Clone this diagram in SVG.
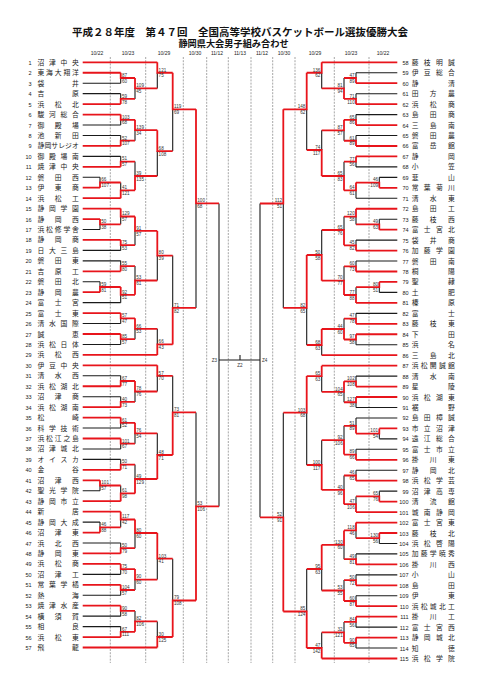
<svg xmlns="http://www.w3.org/2000/svg" width="481" height="680" viewBox="0 0 481 680">
<style>
.g{stroke:#6a6a6a;stroke-width:.6;stroke-dasharray:2 1.2;fill:none}
.k{stroke:#1a1a1a;stroke-width:1.1;fill:none}
.r{stroke:#e8141b;stroke-width:1.8;fill:none}
.n{font-family:"Noto Sans CJK JP","Noto Sans CJK SC",sans-serif;font-size:6.8px;fill:#222}
.no{font-family:"Liberation Sans",sans-serif;font-size:5.5px;fill:#222;text-anchor:end}
.s text{font-family:"Liberation Sans",sans-serif;font-size:4.6px;fill:#333}
.e text{text-anchor:end}
.d{font-family:"Liberation Sans",sans-serif;font-size:5px;fill:#222;text-anchor:middle}
.ti{font-family:"Liberation Sans","Noto Sans CJK JP",sans-serif;font-weight:bold;fill:#111;text-anchor:middle}
</style>
<rect width="481" height="680" fill="#fff"/>
<text class="ti" x="240" y="36" font-size="10.5">平成２８年度　第４７回　全国高等学校バスケットボール選抜優勝大会</text>
<text class="ti" x="233.5" y="47.4" font-size="9.2">静岡県大会男子組み合わせ</text>
<g id="dates">
<text class="d" x="97" y="54.5">10/22</text><text class="d" x="128" y="54.5">10/23</text><text class="d" x="164" y="54.5">10/29</text><text class="d" x="195" y="54.5">10/30</text><text class="d" x="217" y="54.5">11/12</text><text class="d" x="240" y="54.5">11/13</text><text class="d" x="262" y="54.5">11/12</text><text class="d" x="284" y="54.5">10/30</text><text class="d" x="315" y="54.5">10/29</text><text class="d" x="351" y="54.5">10/23</text><text class="d" x="383" y="54.5">10/22</text>
</g>
<g id="guides">
<path class="g" d="M110.3 57V663M145.7 57V663M183.3 57V663M206.7 57V663M228.3 57V663M251 57V663M272.7 57V663M295 57V663M334.3 57V663M369 57V663"/>
</g>
<g id="connectors">
<path class="k" d="M82.7 83.2H120.7M82.7 93.65H120.7M82.7 125H120.7M82.7 135.45H120.7M82.7 156.35H120.7M82.7 177.25H100M82.7 229.5H100M82.7 250.4H120.7M82.7 260.85H120.7M82.7 281.75H100M82.7 302.65H120.7M82.7 323.55H120.7M82.7 344.45H120.7M82.7 375.8H120.7M82.7 396.7H120.7M82.7 428.05H120.7M82.7 448.95H120.7M82.7 459.4H120.7M82.7 490.75H100M82.7 522.1H100M82.7 543H120.7M82.7 574.35H120.7M82.7 595.25H120.7M82.7 616.15H120.7M82.7 626.6H120.7"/>
<path class="k" d="M120.7 83.2V78M120.7 93.65V98.9M135 98.9V88.4M157.3 88.4V72.75M120.7 125V119.8M120.7 135.45V140.7M135 140.7V130.2M120.7 156.35V161.6M100 177.25V182.5M120.7 182.5V190.3M135 161.6V176M157.3 176V151.1M172.7 151.1V109.3M100 229.5V224.3M120.7 224.3V216.5M120.7 250.4V245.2M135 245.2V230.9M120.7 260.85V266.1M100 281.75V287M120.7 302.65V294.8M135 266.1V280.5M157.3 280.5V255.6M120.7 323.55V318.3M120.7 344.45V339.2M135 339.2V328.8M157.3 328.8V344.45M172.7 255.6V307.9M196 307.9V203.4M120.7 375.8V381M120.7 396.7V401.9M135 401.9V391.5M157.3 391.5V375.8M120.7 428.05V422.8M120.7 448.95V443.7M135 443.7V433.3M120.7 459.4V464.6M100 490.75V485.5M120.7 485.5V493.4M135 464.6V479M157.3 433.3V455M172.7 375.8V412.4M100 522.1V527.3M120.7 527.3V519.5M120.7 543V548.2M135 548.2V533M120.7 574.35V569.1M120.7 595.25V590M135 590V579.6M157.3 579.6V558.7M120.7 616.15V610.9M120.7 626.6V631.8M135 610.9V621.4M157.3 621.4V637M172.7 558.7V600.5M196 412.4V506.4"/>
<path class="k" d="M219 203.4V506.4M219 360H260M240 355V360M260 203.5V517.3"/>
<path class="k" d="M397.3 72.76H356M397.3 93.68H356M397.3 114.6H356M397.3 135.52H356M397.3 166.9H356M397.3 177.36H379.3M397.3 198.28H356M397.3 219.2H379.3M397.3 240.12H356M397.3 261.04H356M397.3 292.42H379.3M397.3 313.34H356M397.3 344.72H356M397.3 376.1H356M397.3 407.48H356M397.3 417.94H356M397.3 438.86H379.3M397.3 449.32H356M397.3 470.24H356M397.3 491.16H379.3M397.3 543.46H379.3M397.3 553.92H356M397.3 574.84H356M397.3 595.76H356M397.3 627.14H356M397.3 648.06H356"/>
<path class="k" d="M356 72.76V78M356 93.68V98.9M344 78V88.45M321.7 88.45V72.76M356 114.6V119.8M356 135.52V140.75M344 140.75V130.3M356 166.9V161.7M379.3 177.36V182.6M356 198.28V190.4M344 161.7V176M321.7 130.3V150M306.7 150V109.37M379.3 219.2V224.4M356 224.4V216.6M356 240.12V245.35M344 216.6V230M356 261.04V266.3M379.3 292.42V287.2M356 287.2V295M344 266.3V280.65M321.7 230V255M356 313.34V318.6M356 344.72V339.5M344 318.6V329M321.7 355.18V345M306.7 345V307.9M283.3 307.9V203.5M356 376.1V381.3M356 407.48V402.25M344 402.25V391.8M321.7 391.8V376.1M379.3 438.86V433.6M356 417.94V425.8M356 449.32V454.55M344 425.8V440.2M356 470.24V475.5M379.3 491.16V496.4M356 496.4V504.2M344 475.5V489.9M321.7 440.2V465M306.7 465V412.7M379.3 543.46V538.2M356 538.2V530.4M356 553.92V559.15M344 559.15V544.8M356 574.84V580.07M356 595.76V601M344 580.07V590.5M321.7 590.5V569M356 627.14V621.9M356 648.06V642.8M344 621.9V632.4M321.7 632.4V648M306.7 569V611.5M283.3 412.7V517.3"/>
<path class="r" d="M82.7 62.3H157.3M82.7 72.75H120.7M82.7 104.1H120.7M82.7 114.55H120.7M82.7 145.9H120.7M82.7 166.8H120.7M82.7 187.7H100M82.7 198.15H120.7M82.7 208.6H120.7M82.7 219.05H100M82.7 239.95H120.7M82.7 271.3H120.7M82.7 292.2H100M82.7 313.1H120.7M82.7 334H120.7M82.7 354.9H157.3M82.7 365.35H157.3M82.7 386.25H120.7M82.7 407.15H120.7M82.7 417.6H120.7M82.7 438.5H120.7M82.7 469.85H120.7M82.7 480.3H100M82.7 501.2H120.7M82.7 511.65H120.7M82.7 532.55H100M82.7 553.45H120.7M82.7 563.9H120.7M82.7 584.8H120.7M82.7 605.7H120.7M82.7 637.05H120.7M82.7 647.5H157.3"/>
<path class="r" d="M120.7 72.75V78H135M120.7 104.1V98.9H135M135 78V88.4H157.3M157.3 62.3V72.75H172.7M120.7 114.55V119.8H135M120.7 145.9V140.7H135M135 119.8V130.2H157.3M120.7 166.8V161.6H135M100 187.7V182.5H120.7M120.7 198.15V190.3H135M135 190.3V176H157.3M157.3 130.2V151.1H172.7M172.7 72.75V109.3H196M100 219.05V224.3H120.7M120.7 208.6V216.5H135M120.7 239.95V245.2H135M135 216.5V230.9H157.3M120.7 271.3V266.1H135M100 292.2V287H120.7M120.7 287V294.8H135M135 294.8V280.5H157.3M157.3 230.9V255.6H172.7M120.7 313.1V318.3H135M120.7 334V339.2H135M135 318.3V328.8H157.3M157.3 354.9V344.45H172.7M172.7 344.45V307.9H196M196 109.3V203.4H219M120.7 386.25V381H135M120.7 407.15V401.9H135M135 381V391.5H157.3M157.3 365.35V375.8H172.7M120.7 417.6V422.8H135M120.7 438.5V443.7H135M135 422.8V433.3H157.3M120.7 469.85V464.6H135M100 480.3V485.5H120.7M120.7 501.2V493.4H135M135 493.4V479H157.3M157.3 479V455H172.7M172.7 455V412.4H196M100 532.55V527.3H120.7M120.7 511.65V519.5H135M120.7 553.45V548.2H135M135 519.5V533H157.3M120.7 563.9V569.1H135M120.7 584.8V590H135M135 569.1V579.6H157.3M157.3 533V558.7H172.7M120.7 605.7V610.9H135M120.7 637.05V631.8H135M135 631.8V621.4H157.3M157.3 647.5V637H172.7M172.7 637V600.5H196M196 600.5V506.4H219"/>
<path class="r" d="M397.3 62.3H321.7M397.3 83.22H356M397.3 104.14H356M397.3 125.06H356M397.3 145.98H356M397.3 156.44H356M397.3 187.82H379.3M397.3 208.74H356M397.3 229.66H379.3M397.3 250.58H356M397.3 271.5H356M397.3 281.96H379.3M397.3 302.88H356M397.3 323.8H356M397.3 334.26H356M397.3 355.18H321.7M397.3 365.64H321.7M397.3 386.56H356M397.3 397.02H356M397.3 428.4H379.3M397.3 459.78H356M397.3 480.7H356M397.3 501.62H379.3M397.3 512.08H356M397.3 522.54H356M397.3 533H379.3M397.3 564.38H356M397.3 585.3H356M397.3 606.22H356M397.3 616.68H356M397.3 637.6H356M397.3 658.52H321.7"/>
<path class="r" d="M356 83.22V78H344M356 104.14V98.9H344M344 98.9V88.45H321.7M321.7 62.3V72.76H306.7M356 125.06V119.8H344M356 145.98V140.75H344M344 119.8V130.3H321.7M356 156.44V161.7H344M379.3 187.82V182.6H356M356 182.6V190.4H344M344 190.4V176H321.7M321.7 176V150H306.7M306.7 72.76V109.37H283.3M379.3 229.66V224.4H356M356 208.74V216.6H344M356 250.58V245.35H344M344 245.35V230H321.7M356 271.5V266.3H344M379.3 281.96V287.2H356M356 302.88V295H344M344 295V280.65H321.7M321.7 280.65V255H306.7M356 323.8V318.6H344M356 334.26V339.5H344M344 339.5V329H321.7M321.7 329V345H306.7M306.7 255V307.9H283.3M283.3 109.37V203.5H260M356 386.56V381.3H344M356 397.02V402.25H344M344 381.3V391.8H321.7M321.7 365.64V376.1H306.7M379.3 428.4V433.6H356M356 433.6V425.8H344M356 459.78V454.55H344M344 454.55V440.2H321.7M356 480.7V475.5H344M379.3 501.62V496.4H356M356 512.08V504.2H344M344 504.2V489.9H321.7M321.7 489.9V465H306.7M306.7 376.1V412.7H283.3M379.3 533V538.2H356M356 522.54V530.4H344M356 564.38V559.15H344M344 530.4V544.8H321.7M356 585.3V580.07H344M356 606.22V601H344M344 601V590.5H321.7M321.7 544.8V569H306.7M356 616.68V621.9H344M356 637.6V642.8H344M344 642.8V632.4H321.7M321.7 658.52V648H306.7M306.7 648V611.5H283.3M283.3 611.5V517.3H260"/>
</g>
<g id="final-labels" class="s">
<text x="217" y="361.5" text-anchor="end">Z3</text><text x="262" y="361.5">Z4</text><text x="240" y="367" text-anchor="middle">Z2</text>
</g>
<g id="scores-left" class="s">
<text x="122" y="76.8">87</text><text x="122" y="82.6">60</text>
<text x="122" y="97.7">59</text><text x="122" y="103.5">78</text>
<text x="136.3" y="87.2">109</text><text x="136.3" y="93">45</text>
<text x="158.6" y="71.55">121</text><text x="158.6" y="77.35">75</text>
<text x="122" y="118.6">103</text><text x="122" y="124.4">68</text>
<text x="122" y="139.5">52</text><text x="122" y="145.3">107</text>
<text x="136.3" y="129">139</text><text x="136.3" y="134.8">34</text>
<text x="122" y="160.4">51</text><text x="122" y="166.2">57</text>
<text x="101.3" y="181.3">66</text><text x="101.3" y="187.1">107</text>
<text x="122" y="189.1">41</text><text x="122" y="194.9">121</text>
<text x="136.3" y="174.8">39</text><text x="136.3" y="180.6">135</text>
<text x="158.6" y="149.9">68</text><text x="158.6" y="155.7">108</text>
<text x="174" y="108.1">119</text><text x="174" y="113.9">69</text>
<text x="101.3" y="223.1">50</text><text x="101.3" y="228.9">38</text>
<text x="122" y="215.3">129</text><text x="122" y="221.1">57</text>
<text x="122" y="244">75</text><text x="122" y="249.8">53</text>
<text x="136.3" y="229.7">91</text><text x="136.3" y="235.5">57</text>
<text x="122" y="264.9">55</text><text x="122" y="270.7">80</text>
<text x="101.3" y="285.8">59</text><text x="101.3" y="291.6">81</text>
<text x="122" y="293.6">92</text><text x="122" y="299.4">51</text>
<text x="136.3" y="279.3">53</text><text x="136.3" y="285.1">61</text>
<text x="158.6" y="254.4">80</text><text x="158.6" y="260.2">39</text>
<text x="122" y="317.1">57</text><text x="122" y="322.9">47</text>
<text x="122" y="338">85</text><text x="122" y="343.8">57</text>
<text x="136.3" y="327.6">66</text><text x="136.3" y="333.4">53</text>
<text x="158.6" y="343.25">66</text><text x="158.6" y="349.05">43</text>
<text x="174" y="306.7">71</text><text x="174" y="312.5">82</text>
<text x="197.3" y="202.2">100</text><text x="197.3" y="208">68</text>
<text x="122" y="379.8">67</text><text x="122" y="385.6">77</text>
<text x="122" y="400.7">40</text><text x="122" y="406.5">73</text>
<text x="136.3" y="390.3">78</text><text x="136.3" y="396.1">76</text>
<text x="158.6" y="374.6">57</text><text x="158.6" y="380.4">70</text>
<text x="122" y="421.6">61</text><text x="122" y="427.4">52</text>
<text x="122" y="442.5">101</text><text x="122" y="448.3">67</text>
<text x="136.3" y="432.1">76</text><text x="136.3" y="437.9">54</text>
<text x="122" y="463.4">50</text><text x="122" y="469.2">71</text>
<text x="101.3" y="484.3">101</text><text x="101.3" y="490.1">57</text>
<text x="122" y="492.2">61</text><text x="122" y="498">98</text>
<text x="136.3" y="477.8">49</text><text x="136.3" y="483.6">129</text>
<text x="158.6" y="453.8">48</text><text x="158.6" y="459.6">71</text>
<text x="174" y="411.2">73</text><text x="174" y="417">81</text>
<text x="101.3" y="526.1">46</text><text x="101.3" y="531.9">88</text>
<text x="122" y="518.3">117</text><text x="122" y="524.1">42</text>
<text x="122" y="547">50</text><text x="122" y="552.8">79</text>
<text x="136.3" y="531.8">80</text><text x="136.3" y="537.6">60</text>
<text x="122" y="567.9">75</text><text x="122" y="573.7">70</text>
<text x="122" y="588.8">104</text><text x="122" y="594.6">57</text>
<text x="136.3" y="578.4">90</text><text x="136.3" y="584.2">60</text>
<text x="158.6" y="557.5">103</text><text x="158.6" y="563.3">41</text>
<text x="122" y="609.7">90</text><text x="122" y="615.5">58</text>
<text x="122" y="630.6">67</text><text x="122" y="636.4">111</text>
<text x="136.3" y="620.2">82</text><text x="136.3" y="626">106</text>
<text x="158.6" y="635.8">30</text><text x="158.6" y="641.6">125</text>
<text x="174" y="599.3">79</text><text x="174" y="605.1">108</text>
<text x="197.3" y="505.2">53</text><text x="197.3" y="511">106</text>
</g>
<g id="scores-right" class="s e">
<text x="354.7" y="76.8">47</text><text x="354.7" y="82.6">89</text>
<text x="354.7" y="97.7">71</text><text x="354.7" y="103.5">110</text>
<text x="342.7" y="87.25">81</text><text x="342.7" y="93.05">94</text>
<text x="320.4" y="71.56">136</text><text x="320.4" y="77.36">62</text>
<text x="354.7" y="118.6">65</text><text x="354.7" y="124.4">86</text>
<text x="354.7" y="139.55">61</text><text x="354.7" y="145.35">89</text>
<text x="342.7" y="129.1">87</text><text x="342.7" y="134.9">57</text>
<text x="354.7" y="160.5">77</text><text x="354.7" y="166.3">56</text>
<text x="378" y="181.4">46</text><text x="378" y="187.2">109</text>
<text x="354.7" y="189.2">64</text><text x="354.7" y="195">61</text>
<text x="342.7" y="174.8">65</text><text x="342.7" y="180.6">83</text>
<text x="320.4" y="148.8">74</text><text x="320.4" y="154.6">117</text>
<text x="305.4" y="108.17">148</text><text x="305.4" y="113.97">62</text>
<text x="378" y="223.2">49</text><text x="378" y="229">63</text>
<text x="354.7" y="215.4">120</text><text x="354.7" y="221.2">58</text>
<text x="354.7" y="244.15">45</text><text x="354.7" y="249.95">82</text>
<text x="342.7" y="228.8">65</text><text x="342.7" y="234.6">76</text>
<text x="354.7" y="265.1">60</text><text x="354.7" y="270.9">73</text>
<text x="378" y="286">80</text><text x="378" y="291.8">51</text>
<text x="354.7" y="293.8">77</text><text x="354.7" y="299.6">88</text>
<text x="342.7" y="279.45">70</text><text x="342.7" y="285.25">77</text>
<text x="320.4" y="253.8">50</text><text x="320.4" y="259.6">58</text>
<text x="354.7" y="317.4">47</text><text x="354.7" y="323.2">78</text>
<text x="354.7" y="338.3">97</text><text x="354.7" y="344.1">58</text>
<text x="342.7" y="327.8">44</text><text x="342.7" y="333.6">60</text>
<text x="320.4" y="343.8">68</text><text x="320.4" y="349.6">63</text>
<text x="305.4" y="306.7">82</text><text x="305.4" y="312.5">65</text>
<text x="282" y="202.3">112</text><text x="282" y="208.1">51</text>
<text x="354.7" y="380.1">102</text><text x="354.7" y="385.9">108</text>
<text x="354.7" y="401.05">127</text><text x="354.7" y="406.85">38</text>
<text x="342.7" y="390.6">104</text><text x="342.7" y="396.4">65</text>
<text x="320.4" y="374.9">65</text><text x="320.4" y="380.7">63</text>
<text x="378" y="432.4">101</text><text x="378" y="438.2">54</text>
<text x="354.7" y="424.6">51</text><text x="354.7" y="430.4">89</text>
<text x="354.7" y="453.35">89</text><text x="354.7" y="459.15">66</text>
<text x="342.7" y="439">92</text><text x="342.7" y="444.8">106</text>
<text x="354.7" y="474.3">46</text><text x="354.7" y="480.1">65</text>
<text x="378" y="495.2">65</text><text x="378" y="501">76</text>
<text x="354.7" y="503">47</text><text x="354.7" y="508.8">106</text>
<text x="342.7" y="488.7">40</text><text x="342.7" y="494.5">96</text>
<text x="320.4" y="463.8">100</text><text x="320.4" y="469.6">117</text>
<text x="305.4" y="411.5">103</text><text x="305.4" y="417.3">68</text>
<text x="378" y="537">130</text><text x="378" y="542.8">56</text>
<text x="354.7" y="529.2">118</text><text x="354.7" y="535">46</text>
<text x="354.7" y="557.95">49</text><text x="354.7" y="563.75">81</text>
<text x="342.7" y="543.6">130</text><text x="342.7" y="549.4">60</text>
<text x="354.7" y="578.87">50</text><text x="354.7" y="584.67">72</text>
<text x="354.7" y="599.8">60</text><text x="354.7" y="605.6">87</text>
<text x="342.7" y="589.3">53</text><text x="342.7" y="595.1">55</text>
<text x="320.4" y="567.8">95</text><text x="320.4" y="573.6">63</text>
<text x="354.7" y="620.7">84</text><text x="354.7" y="626.5">56</text>
<text x="354.7" y="641.6">90</text><text x="354.7" y="647.4">65</text>
<text x="342.7" y="631.2">32</text><text x="342.7" y="637">121</text>
<text x="320.4" y="646.8">47</text><text x="320.4" y="652.6">142</text>
<text x="305.4" y="610.3">85</text><text x="305.4" y="616.1">124</text>
<text x="282" y="516.1">52</text><text x="282" y="521.9">91</text>
</g>
<g id="teams-left">
<g id="t1"><text class="no" x="31.5" y="64.8">1</text><text class="n" x="37.5 49 60.5 72" y="64.8">沼津中央</text></g>
<g id="t2"><text class="no" x="31.5" y="75.25">2</text><text class="n" x="37.5 46.1 54.75 63.4 72" y="75.25">東海大翔洋</text></g>
<g id="t3"><text class="no" x="31.5" y="85.7">3</text><text class="n" x="37.5 72" y="85.7">袋井</text></g>
<g id="t4"><text class="no" x="31.5" y="96.15">4</text><text class="n" x="37.5 72" y="96.15">吉原</text></g>
<g id="t5"><text class="no" x="31.5" y="106.6">5</text><text class="n" x="37.5 54.75 72" y="106.6">浜松北</text></g>
<g id="t6"><text class="no" x="31.5" y="117.05">6</text><text class="n" x="37.5 49 60.5 72" y="117.05">駿河総合</text></g>
<g id="t7"><text class="no" x="31.5" y="127.5">7</text><text class="n" x="37.5 54.75 72" y="127.5">御殿場</text></g>
<g id="t8"><text class="no" x="31.5" y="137.95">8</text><text class="n" x="37.5 54.75 72" y="137.95">池新田</text></g>
<g id="t9"><text class="no" x="31.5" y="148.4">9</text><text class="n" x="37.5 44.4 51.3 58.2 65.1 72" y="148.4">静岡サレジオ</text></g>
<g id="t10"><text class="no" x="31.5" y="158.85">10</text><text class="n" x="37.5 49 60.5 72" y="158.85">御殿場南</text></g>
<g id="t11"><text class="no" x="31.5" y="169.3">11</text><text class="n" x="37.5 49 60.5 72" y="169.3">焼津中央</text></g>
<g id="t12"><text class="no" x="31.5" y="179.75">12</text><text class="n" x="37.5 54.75 72" y="179.75">磐田西</text></g>
<g id="t13"><text class="no" x="31.5" y="190.2">13</text><text class="n" x="37.5 54.75 72" y="190.2">伊東商</text></g>
<g id="t14"><text class="no" x="31.5" y="200.65">14</text><text class="n" x="37.5 54.75 72" y="200.65">浜松工</text></g>
<g id="t15"><text class="no" x="31.5" y="211.1">15</text><text class="n" x="37.5 49 60.5 72" y="211.1">静岡学園</text></g>
<g id="t16"><text class="no" x="31.5" y="221.55">16</text><text class="n" x="37.5 54.75 72" y="221.55">静岡西</text></g>
<g id="t17"><text class="no" x="31.5" y="232">17</text><text class="n" x="37.5 46.1 54.75 63.4 72" y="232">浜松修学舎</text></g>
<g id="t18"><text class="no" x="31.5" y="242.45">18</text><text class="n" x="37.5 54.75 72" y="242.45">静岡商</text></g>
<g id="t19"><text class="no" x="31.5" y="252.9">19</text><text class="n" x="37.5 49 60.5 72" y="252.9">日大三島</text></g>
<g id="t20"><text class="no" x="31.5" y="263.35">20</text><text class="n" x="37.5 54.75 72" y="263.35">磐田東</text></g>
<g id="t21"><text class="no" x="31.5" y="273.8">21</text><text class="n" x="37.5 54.75 72" y="273.8">吉原工</text></g>
<g id="t22"><text class="no" x="31.5" y="284.25">22</text><text class="n" x="37.5 54.75 72" y="284.25">磐田北</text></g>
<g id="t23"><text class="no" x="31.5" y="294.7">23</text><text class="n" x="37.5 54.75 72" y="294.7">静岡農</text></g>
<g id="t24"><text class="no" x="31.5" y="305.15">24</text><text class="n" x="37.5 54.75 72" y="305.15">富士宮</text></g>
<g id="t25"><text class="no" x="31.5" y="315.6">25</text><text class="n" x="37.5 54.75 72" y="315.6">富士東</text></g>
<g id="t26"><text class="no" x="31.5" y="326.05">26</text><text class="n" x="37.5 49 60.5 72" y="326.05">清水国際</text></g>
<g id="t27"><text class="no" x="31.5" y="336.5">27</text><text class="n" x="37.5 72" y="336.5">誠恵</text></g>
<g id="t28"><text class="no" x="31.5" y="346.95">28</text><text class="n" x="37.5 49 60.5 72" y="346.95">浜松日体</text></g>
<g id="t29"><text class="no" x="31.5" y="357.4">29</text><text class="n" x="37.5 54.75 72" y="357.4">浜松西</text></g>
<g id="t30"><text class="no" x="31.5" y="367.85">30</text><text class="n" x="37.5 49 60.5 72" y="367.85">伊豆中央</text></g>
<g id="t31"><text class="no" x="31.5" y="378.3">31</text><text class="n" x="37.5 54.75 72" y="378.3">清水西</text></g>
<g id="t32"><text class="no" x="31.5" y="388.75">32</text><text class="n" x="37.5 49 60.5 72" y="388.75">浜松湖北</text></g>
<g id="t33"><text class="no" x="31.5" y="399.2">33</text><text class="n" x="37.5 54.75 72" y="399.2">沼津商</text></g>
<g id="t34"><text class="no" x="31.5" y="409.65">34</text><text class="n" x="37.5 49 60.5 72" y="409.65">浜松湖南</text></g>
<g id="t35"><text class="no" x="31.5" y="420.1">35</text><text class="n" x="37.5 72" y="420.1">松崎</text></g>
<g id="t36"><text class="no" x="31.5" y="430.55">36</text><text class="n" x="37.5 49 60.5 72" y="430.55">科学技術</text></g>
<g id="t37"><text class="no" x="31.5" y="441">37</text><text class="n" x="37.5 46.1 54.75 63.4 72" y="441">浜松江之島</text></g>
<g id="t38"><text class="no" x="31.5" y="451.45">38</text><text class="n" x="37.5 49 60.5 72" y="451.45">沼津城北</text></g>
<g id="t39"><text class="no" x="31.5" y="461.9">39</text><text class="n" x="37.5 49 60.5 72" y="461.9">オイスカ</text></g>
<g id="t40"><text class="no" x="31.5" y="472.35">40</text><text class="n" x="37.5 72" y="472.35">金谷</text></g>
<g id="t41"><text class="no" x="31.5" y="482.8">41</text><text class="n" x="37.5 54.75 72" y="482.8">沼津西</text></g>
<g id="t42"><text class="no" x="31.5" y="493.25">42</text><text class="n" x="37.5 49 60.5 72" y="493.25">聖光学院</text></g>
<g id="t43"><text class="no" x="31.5" y="503.7">43</text><text class="n" x="37.5 49 60.5 72" y="503.7">静岡市立</text></g>
<g id="t44"><text class="no" x="31.5" y="514.15">44</text><text class="n" x="37.5 72" y="514.15">新居</text></g>
<g id="t45"><text class="no" x="31.5" y="524.6">45</text><text class="n" x="37.5 49 60.5 72" y="524.6">静岡大成</text></g>
<g id="t46"><text class="no" x="31.5" y="535.05">46</text><text class="n" x="37.5 54.75 72" y="535.05">沼津東</text></g>
<g id="t47"><text class="no" x="31.5" y="545.5">47</text><text class="n" x="37.5 54.75 72" y="545.5">浜北西</text></g>
<g id="t48"><text class="no" x="31.5" y="555.95">48</text><text class="n" x="37.5 54.75 72" y="555.95">静岡東</text></g>
<g id="t49"><text class="no" x="31.5" y="566.4">49</text><text class="n" x="37.5 54.75 72" y="566.4">浜松商</text></g>
<g id="t50"><text class="no" x="31.5" y="576.85">50</text><text class="n" x="37.5 54.75 72" y="576.85">沼津工</text></g>
<g id="t51"><text class="no" x="31.5" y="587.3">51</text><text class="n" x="37.5 49 60.5 72" y="587.3">常葉学橘</text></g>
<g id="t52"><text class="no" x="31.5" y="597.75">52</text><text class="n" x="37.5 72" y="597.75">熱海</text></g>
<g id="t53"><text class="no" x="31.5" y="608.2">53</text><text class="n" x="37.5 49 60.5 72" y="608.2">焼津水産</text></g>
<g id="t54"><text class="no" x="31.5" y="618.65">54</text><text class="n" x="37.5 54.75 72" y="618.65">横須賀</text></g>
<g id="t55"><text class="no" x="31.5" y="629.1">55</text><text class="n" x="37.5 72" y="629.1">相良</text></g>
<g id="t56"><text class="no" x="31.5" y="639.55">56</text><text class="n" x="37.5 54.75 72" y="639.55">浜松東</text></g>
<g id="t57"><text class="no" x="31.5" y="650">57</text><text class="n" x="37.5 72" y="650">飛龍</text></g>
</g>
<g id="teams-right">
<g id="t58"><text class="no" x="408.5" y="64.8">58</text><text class="n" x="411.7 423.8 435.9 448" y="64.8">藤枝明誠</text></g>
<g id="t59"><text class="no" x="408.5" y="75.26">59</text><text class="n" x="411.7 423.8 435.9 448" y="75.26">伊豆総合</text></g>
<g id="t60"><text class="no" x="408.5" y="85.72">60</text><text class="n" x="411.7 448" y="85.72">静清</text></g>
<g id="t61"><text class="no" x="408.5" y="96.18">61</text><text class="n" x="411.7 429.85 448" y="96.18">田方農</text></g>
<g id="t62"><text class="no" x="408.5" y="106.64">62</text><text class="n" x="411.7 429.85 448" y="106.64">浜松商</text></g>
<g id="t63"><text class="no" x="408.5" y="117.1">63</text><text class="n" x="411.7 429.85 448" y="117.1">島田商</text></g>
<g id="t64"><text class="no" x="408.5" y="127.56">64</text><text class="n" x="411.7 429.85 448" y="127.56">三島南</text></g>
<g id="t65"><text class="no" x="408.5" y="138.02">65</text><text class="n" x="411.7 429.85 448" y="138.02">磐田農</text></g>
<g id="t66"><text class="no" x="408.5" y="148.48">66</text><text class="n" x="411.7 429.85 448" y="148.48">富岳館</text></g>
<g id="t67"><text class="no" x="408.5" y="158.94">67</text><text class="n" x="411.7 448" y="158.94">静岡</text></g>
<g id="t68"><text class="no" x="408.5" y="169.4">68</text><text class="n" x="411.7 448" y="169.4">小笠</text></g>
<g id="t69"><text class="no" x="408.5" y="179.86">69</text><text class="n" x="411.7 448" y="179.86">韮山</text></g>
<g id="t70"><text class="no" x="408.5" y="190.32">70</text><text class="n" x="411.7 423.8 435.9 448" y="190.32">常葉菊川</text></g>
<g id="t71"><text class="no" x="408.5" y="200.78">71</text><text class="n" x="411.7 429.85 448" y="200.78">清水東</text></g>
<g id="t72"><text class="no" x="408.5" y="211.24">72</text><text class="n" x="411.7 429.85 448" y="211.24">島田工</text></g>
<g id="t73"><text class="no" x="408.5" y="221.7">73</text><text class="n" x="411.7 429.85 448" y="221.7">藤枝西</text></g>
<g id="t74"><text class="no" x="408.5" y="232.16">74</text><text class="n" x="411.7 423.8 435.9 448" y="232.16">富士宮北</text></g>
<g id="t75"><text class="no" x="408.5" y="242.62">75</text><text class="n" x="411.7 429.85 448" y="242.62">袋井商</text></g>
<g id="t76"><text class="no" x="408.5" y="253.08">76</text><text class="n" x="411.7 423.8 435.9 448" y="253.08">加藤学園</text></g>
<g id="t77"><text class="no" x="408.5" y="263.54">77</text><text class="n" x="411.7 429.85 448" y="263.54">磐田南</text></g>
<g id="t78"><text class="no" x="408.5" y="274">78</text><text class="n" x="411.7 448" y="274">桐陽</text></g>
<g id="t79"><text class="no" x="408.5" y="284.46">79</text><text class="n" x="411.7 448" y="284.46">聖隷</text></g>
<g id="t80"><text class="no" x="408.5" y="294.92">80</text><text class="n" x="411.7 448" y="294.92">土肥</text></g>
<g id="t81"><text class="no" x="408.5" y="305.38">81</text><text class="n" x="411.7 448" y="305.38">榛原</text></g>
<g id="t82"><text class="no" x="408.5" y="315.84">82</text><text class="n" x="411.7 448" y="315.84">富士</text></g>
<g id="t83"><text class="no" x="408.5" y="326.3">83</text><text class="n" x="411.7 429.85 448" y="326.3">藤枝東</text></g>
<g id="t84"><text class="no" x="408.5" y="336.76">84</text><text class="n" x="411.7 448" y="336.76">下田</text></g>
<g id="t85"><text class="no" x="408.5" y="347.22">85</text><text class="n" x="411.7 448" y="347.22">浜名</text></g>
<g id="t86"><text class="no" x="408.5" y="357.68">86</text><text class="n" x="411.7 429.85 448" y="357.68">三島北</text></g>
<g id="t87"><text class="no" x="408.5" y="368.14">87</text><text class="n" x="411.7 420.8 429.85 438.9 448" y="368.14">浜松開誠館</text></g>
<g id="t88"><text class="no" x="408.5" y="378.6">88</text><text class="n" x="411.7 429.85 448" y="378.6">清水南</text></g>
<g id="t89"><text class="no" x="408.5" y="389.06">89</text><text class="n" x="411.7 448" y="389.06">星陵</text></g>
<g id="t90"><text class="no" x="408.5" y="399.52">90</text><text class="n" x="411.7 423.8 435.9 448" y="399.52">浜松湖東</text></g>
<g id="t91"><text class="no" x="408.5" y="409.98">91</text><text class="n" x="411.7 448" y="409.98">裾野</text></g>
<g id="t92"><text class="no" x="408.5" y="420.44">92</text><text class="n" x="411.7 423.8 435.9 448" y="420.44">島田樟誠</text></g>
<g id="t93"><text class="no" x="408.5" y="430.9">93</text><text class="n" x="411.7 423.8 435.9 448" y="430.9">市立沼津</text></g>
<g id="t94"><text class="no" x="408.5" y="441.36">94</text><text class="n" x="411.7 423.8 435.9 448" y="441.36">遠江総合</text></g>
<g id="t95"><text class="no" x="408.5" y="451.82">95</text><text class="n" x="411.7 423.8 435.9 448" y="451.82">富士市立</text></g>
<g id="t96"><text class="no" x="408.5" y="462.28">96</text><text class="n" x="411.7 429.85 448" y="462.28">掛川東</text></g>
<g id="t97"><text class="no" x="408.5" y="472.74">97</text><text class="n" x="411.7 429.85 448" y="472.74">静岡北</text></g>
<g id="t98"><text class="no" x="408.5" y="483.2">98</text><text class="n" x="411.7 423.8 435.9 448" y="483.2">浜松学芸</text></g>
<g id="t99"><text class="no" x="408.5" y="493.66">99</text><text class="n" x="411.7 423.8 435.9 448" y="493.66">沼津高専</text></g>
<g id="t100"><text class="no" x="408.5" y="504.12">100</text><text class="n" x="411.7 429.85 448" y="504.12">清流館</text></g>
<g id="t101"><text class="no" x="408.5" y="514.58">101</text><text class="n" x="411.7 423.8 435.9 448" y="514.58">城南静岡</text></g>
<g id="t102"><text class="no" x="408.5" y="525.04">102</text><text class="n" x="411.7 423.8 435.9 448" y="525.04">富士宮東</text></g>
<g id="t103"><text class="no" x="408.5" y="535.5">103</text><text class="n" x="411.7 429.85 448" y="535.5">藤枝北</text></g>
<g id="t104"><text class="no" x="408.5" y="545.96">104</text><text class="n" x="411.7 423.8 435.9 448" y="545.96">浜松啓陽</text></g>
<g id="t105"><text class="no" x="408.5" y="556.42">105</text><text class="n" x="411.7 420.8 429.85 438.9 448" y="556.42">加藤学暁秀</text></g>
<g id="t106"><text class="no" x="408.5" y="566.88">106</text><text class="n" x="411.7 429.85 448" y="566.88">掛川西</text></g>
<g id="t107"><text class="no" x="408.5" y="577.34">107</text><text class="n" x="411.7 448" y="577.34">小山</text></g>
<g id="t108"><text class="no" x="408.5" y="587.8">108</text><text class="n" x="411.7 448" y="587.8">島田</text></g>
<g id="t109"><text class="no" x="408.5" y="598.26">109</text><text class="n" x="411.7 448" y="598.26">伊東</text></g>
<g id="t110"><text class="no" x="408.5" y="608.72">110</text><text class="n" x="411.7 420.8 429.85 438.9 448" y="608.72">浜松城北工</text></g>
<g id="t111"><text class="no" x="408.5" y="619.18">111</text><text class="n" x="411.7 429.85 448" y="619.18">掛川工</text></g>
<g id="t112"><text class="no" x="408.5" y="629.64">112</text><text class="n" x="411.7 423.8 435.9 448" y="629.64">富士宮西</text></g>
<g id="t113"><text class="no" x="408.5" y="640.1">113</text><text class="n" x="411.7 423.8 435.9 448" y="640.1">静岡城北</text></g>
<g id="t114"><text class="no" x="408.5" y="650.56">114</text><text class="n" x="411.7 448" y="650.56">知徳</text></g>
<g id="t115"><text class="no" x="408.5" y="661.02">115</text><text class="n" x="411.7 423.8 435.9 448" y="661.02">浜松学院</text></g>
</g>
</svg>
